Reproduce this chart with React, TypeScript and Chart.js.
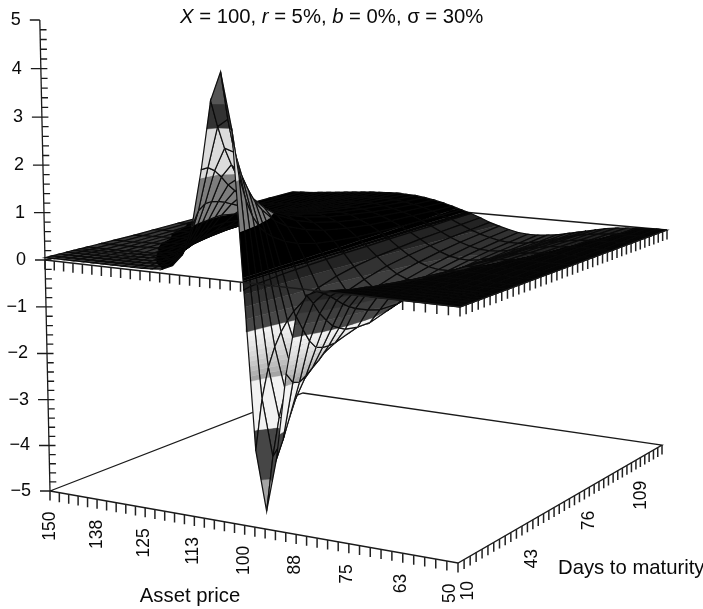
import { useEffect, useRef } from "react";
import { Chart, registerables } from "chart.js";
Chart.register(...registerables);

const prices = [150,147.5,145,142.5,140,137.5,135,132.5,130,127.5,125,122.5,120,117.5,115,112.5,110,107.5,105,102.5,100,97.5,95,92.5,90,87.5,85,82.5,80,77.5,75,72.5,70,67.5,65,62.5,60,57.5,55,52.5,50];
const dayTicks = [10,13,16,19,22,25,28,31,34,37,40,43,46,49,52,55,58,61,64,67,70,73,76,79,82,85,88,91,94,97,100,103,106,109,112,115,118,121,124,127,130];
const zTicks = [5,4,3,2,1,0,-1,-2,-3,-4,-5];
const priceLabels = [[150,"150"],[137.5,"138"],[125,"125"],[112.5,"113"],[100,"100"],[87.5,"88"],[75,"75"],[62.5,"63"],[50,"50"]] as [number,string][];
const dayLabels = [[10,"10"],[43,"43"],[76,"76"],[109,"109"]] as [number,string][];

const rowDays = [10,13,16,19,22,25,28,34,40,49,58,70,82,94,106,118,130];
const z10 = [.05,.05,.05,.05,.05,.05,.05,.05,.05,.05,.05,.06,.08,.17,.41,1.01,2.18,3.57,4.15,3.05,-.16,-3.41,-4.63,-3.52,-1.75,-.56,-.12,-.02,0,0,0,0,0,0,0,0,0,0,0,0,0];
const z13 = [.05,.05,.05,.05,.05,.05,.05,.05,.05,.05,.06,.08,.14,.31,.65,1.3,2.19,3.03,3.19,2.09,-.13,-2.4,-3.56,-3.18,-1.97,-.87,-.32,-.1,-.02,0,0,0,0,0,0,0,0,0,0,0,0];
const z16 = [.05,.05,.05,.05,.05,.05,.05,.05,.05,.06,.08,.12,.23,.45,.83,1.41,2.1,2.57,2.5,1.56,-.12,-1.8,-2.81,-2.78,-2.02,-1.15,-.57,-.2,-.05,-.02,0,0,0,0,0,0,0,0,0,0,0];
const z19 = [.05,.05,.05,.05,.05,.05,.05,.05,.06,.07,.1,.17,.32,.57,.95,1.42,1.94,2.21,2,1.19,-.11,-1.43,-2.31,-2.43,-1.94,-1.33,-.75,-.32,-.11,-.04,-.01,0,0,0,0,0,0,0,0,0,0];
const z22 = [.05,.05,.05,.05,.05,.05,.05,.06,.07,.09,.14,.23,.39,.65,.99,1.39,1.75,1.9,1.67,.95,-.1,-1.17,-1.93,-2.15,-1.83,-1.38,-.91,-.44,-.18,-.06,-.02,-.01,0,0,0,0,0,0,0,0,0];
const z25 = [.05,.05,.05,.05,.05,.05,.06,.07,.08,.11,.18,.28,.46,.71,1.01,1.34,1.6,1.65,1.4,.79,-.09,-.98,-1.65,-1.89,-1.72,-1.39,-1,-.54,-.25,-.1,-.03,-.01,0,0,0,0,0,0,0,0,0];
const z28 = [.05,.05,.05,.05,.05,.06,.06,.07,.1,.14,.22,.34,.51,.74,1.02,1.27,1.46,1.45,1.21,.67,-.08,-.83,-1.42,-1.68,-1.6,-1.38,-1.07,-.62,-.31,-.13,-.05,-.02,-.01,0,0,0,0,0,0,0,0];
const z34 = [.05,.05,.05,.05,.06,.07,.08,.1,.14,.19,.28,.41,.58,.77,.97,1.14,1.2,1.16,.91,.5,-.07,-.64,-1.11,-1.38,-1.38,-1.29,-1.12,-.74,-.42,-.21,-.09,-.03,-.01,0,0,0,0,0,0,0,0];
const z40 = [.05,.05,.05,.06,.07,.08,.1,.13,.18,.24,.33,.46,.6,.75,.89,1,1.03,.94,.72,.38,-.06,-.51,-.9,-1.14,-1.2,-1.2,-1.12,-.82,-.52,-.3,-.14,-.06,-.02,-.01,0,0,0,0,0,0,0];
const z49 = [.05,.06,.06,.07,.08,.1,.13,.17,.22,.3,.38,.48,.59,.7,.79,.84,.82,.72,.54,.27,-.05,-.39,-.69,-.9,-.99,-1.02,-1,-.83,-.6,-.38,-.21,-.1,-.03,-.01,0,0,0,0,0,0,0];
const z58 = [.06,.07,.07,.09,.1,.13,.16,.21,.26,.32,.4,.48,.57,.64,.69,.71,.67,.57,.42,.21,-.04,-.31,-.56,-.73,-.83,-.86,-.88,-.75,-.58,-.42,-.25,-.14,-.05,-.02,-.01,0,0,0,0,0,0];
const z70 = [.07,.08,.09,.11,.13,.16,.19,.23,.29,.34,.41,.46,.52,.56,.58,.58,.53,.44,.32,.15,-.04,-.24,-.43,-.58,-.67,-.7,-.67,-.59,-.48,-.35,-.24,-.15,-.09,-.04,-.02,-.01,0,0,0,0,0];
const z82 = [.08,.09,.11,.13,.15,.18,.21,.25,.3,.34,.39,.43,.47,.49,.5,.48,.44,.35,.25,.12,-.03,-.2,-.35,-.48,-.56,-.6,-.6,-.55,-.47,-.37,-.27,-.19,-.12,-.07,-.03,-.02,-.01,0,0,0,0];
const z94 = [.09,.11,.12,.14,.17,.19,.22,.26,.29,.33,.37,.4,.42,.43,.43,.41,.36,.29,.2,.09,-.03,-.16,-.29,-.4,-.48,-.52,-.53,-.5,-.45,-.37,-.29,-.21,-.14,-.09,-.05,-.03,-.01,0,0,0,0];
const z106 = [.11,.12,.14,.16,.18,.2,.23,.26,.29,.32,.35,.37,.38,.39,.38,.35,.3,.24,.17,.08,-.03,-.14,-.25,-.34,-.41,-.46,-.47,-.46,-.42,-.36,-.3,-.23,-.16,-.11,-.07,-.04,-.02,-.01,0,0,0];
const z118 = [.12,.13,.15,.17,.19,.21,.23,.26,.28,.31,.33,.34,.35,.35,.33,.3,.26,.21,.14,.06,-.02,-.12,-.22,-.3,-.36,-.41,-.43,-.43,-.4,-.36,-.3,-.24,-.18,-.12,-.08,-.05,-.03,-.01,-.01,0,0];
const z130 = [.13,.14,.15,.17,.19,.21,.23,.25,.27,.29,.3,.31,.32,.31,.3,.27,.23,.18,.12,.05,-.02,-.1,-.19,-.26,-.32,-.37,-.39,-.39,-.37,-.34,-.29,-.24,-.19,-.14,-.09,-.06,-.04,-.02,-.01,0,0];
const surface = [z10,z13,z16,z19,z22,z25,z28,z34,z40,z49,z58,z70,z82,z94,z106,z118,z130];

const bandEdges = [-9,-4,-3,-2,-1.9,-1.8,-1.7,-1.6,-1.5,-1.4,-1.3,-1.2,-1.1,-1,-.75,-.5,-.25,-.02,.02,.08,1,2,3,3.5,9];
const bandGreys = [165,70,242,165,178,190,200,209,217,224,231,236,241,72,62,50,35,5,55,0,125,220,50,85];

type Pt = [number, number];
type V = { u: number; v: number; z: number };

const homography = (q: Pt[]) => {
  const [p0, p1, p2, p3] = q;
  const dx1 = p1[0]-p2[0], dx2 = p3[0]-p2[0], sx = p0[0]-p1[0]+p2[0]-p3[0];
  const dy1 = p1[1]-p2[1], dy2 = p3[1]-p2[1], sy = p0[1]-p1[1]+p2[1]-p3[1];
  const den = dx1*dy2-dx2*dy1;
  const g = (sx*dy2-dx2*sy)/den, h = (dx1*sy-sx*dy1)/den;
  const a = p1[0]-p0[0]+g*p1[0], b = p3[0]-p0[0]+h*p3[0];
  const d = p1[1]-p0[1]+g*p1[1], e = p3[1]-p0[1]+h*p3[1];
  return (u: number, v: number): Pt => {
    const w = g*u+h*v+1;
    return [(a*u+b*v+p0[0])/w, (d*u+e*v+p0[1])/w];
  };
};
const planeTop = homography([[45,260],[460,307],[667,230],[293,197]]);
const planeFloor = homography([[50,491],[458,563],[662,445],[303,393]]);
const project = (u: number, v: number, z: number) => {
  const a = planeTop(u,v), b = planeFloor(u,v);
  const t = -(z + 0.0039*z*(z+5))/5;
  return { x: a[0]+(b[0]-a[0])*t, y: a[1]+(b[1]-a[1])*t };
};
const projectSurface = (u: number, v: number, z: number) => {
  const p = project(u,v,z);
  return { x: p.x + 4*u*(1-u)*(1-v)*(3.2+0.3*z), y: p.y };
};
const uOf = (p: number) => (150-p)/100;
const vOf = (d: number) => (d-10)/120;
const gap = { x: NaN, y: NaN };

const clip = (poly: V[], lim: number, keepAbove: boolean) => {
  const out: V[] = [];
  const inside = (a: V) => keepAbove ? a.z >= lim : a.z <= lim;
  poly.forEach((a, i) => {
    const b = poly[(i+1)%poly.length];
    if (inside(a)) out.push(a);
    if (inside(a) !== inside(b)) {
      const t = (lim-a.z)/(b.z-a.z);
      out.push({ u: a.u+(b.u-a.u)*t, v: a.v+(b.v-a.v)*t, z: lim });
    }
  });
  return out;
};

const lineSet = (data: any[], color: string, width: number) => ({
  data, borderColor: color, borderWidth: width, fill: false, pointRadius: 0, tension: 0, spanGaps: false,
});
const polySet = (data: any[], grey: number) => {
  const c = `rgb(${grey},${grey},${grey})`;
  return { data, borderColor: c, borderWidth: 0.4, backgroundColor: c, fill: "shape", pointRadius: 0, tension: 0 };
};

const buildDatasets = () => {
  const out: any[] = [];
  const axisColor = "#1a1a1a";
  const edge = (pts: number[][], z: number) => pts.map(([u,v]) => project(u,v,z));
  out.push(lineSet(edge([[0,0],[1,0],[1,1],[0,1],[0,0]], -5), axisColor, 1.3));
  out.push(lineSet(edge([[1,1],[0,1],[0,0]], 0), axisColor, 1.3));
  const ticks: any[] = [];
  const addTick = (u: number, v: number, z: number) => {
    const p = project(u,v,z);
    ticks.push(p, { x: p.x, y: p.y+9.5 }, gap);
  };
  for (const z of [-5, 0]) {
    prices.forEach(p => addTick(uOf(p), 0, z));
    dayTicks.forEach(d => addTick(1, vOf(d), z));
  }
  out.push(lineSet(ticks, "#222", 1.5));
  const zAxis = edge([[0,0]], 5).concat(edge([[0,0]], -5));
  out.push(lineSet(zAxis, axisColor, 1.3));
  const zt: any[] = [];
  for (let i = 0; i <= 50; i++) {
    const z = 5 - i*0.2;
    const p = project(0,0,z);
    const major = i%5 === 0;
    const end = i === 0 || i === 50;
    zt.push({ x: p.x-(major?10:0), y: p.y }, { x: p.x+(end?0:6.5), y: p.y }, gap);
  }
  out.push(lineSet(zt, axisColor, 1.3));

  for (let r = surface.length-2; r >= 0; r--) {
    for (let c = 0; c < prices.length-1; c++) {
      const v0 = vOf(rowDays[r]), v1 = vOf(rowDays[r+1]);
      const u0 = uOf(prices[c]), u1 = uOf(prices[c+1]);
      const quad: V[] = [
        { u: u0, v: v1, z: surface[r+1][c] },
        { u: u1, v: v1, z: surface[r+1][c+1] },
        { u: u1, v: v0, z: surface[r][c+1] },
        { u: u0, v: v0, z: surface[r][c] },
      ];
      for (let b = 0; b < bandGreys.length; b++) {
        const part = clip(clip(quad, bandEdges[b], true), bandEdges[b+1], false);
        if (part.length < 3) continue;
        const pts = part.map(a => projectSurface(a.u,a.v,a.z));
        pts.push(pts[0]);
        const wingBand = bandEdges[b] === .02;
        out.push(polySet(pts, wingBand && prices[c] < 120 ? 0 : bandGreys[b]));
      }
      const outline = quad.map(a => projectSurface(a.u,a.v,a.z));
      outline.push(outline[0]);
      out.push(lineSet(outline, "rgba(8,8,8,0.95)", 1.2));
    }
  }
  out.push(lineSet(edge([[0,0],[1,0],[1,1]], 0), axisColor, 1.3));
  return out.reverse();
};

const font = (size: number, italic = false) => `${italic ? "italic " : ""}${size}px "Liberation Sans", Arial, sans-serif`;

const textPlugin = {
  id: "surfaceText",
  afterDraw(chart: any) {
    const ctx = chart.ctx;
    const sx = chart.scales.x, sy = chart.scales.y;
    ctx.save();
    ctx.fillStyle = "#0a0a0a";
    const runs: [string, boolean][] = [["X",true],[" = 100, ",false],["r",true],[" = 5%, ",false],["b",true],[" = 0%, ",false],["σ",false],[" = 30%",false]];
    let tx = sx.getPixelForValue(180);
    ctx.textBaseline = "middle";
    ctx.textAlign = "left";
    for (const [t, it] of runs) {
      ctx.font = font(20.3, it);
      ctx.fillText(t, tx, sy.getPixelForValue(17));
      tx += ctx.measureText(t).width;
    }
    ctx.font = font(18);
    ctx.textAlign = "right";
    zTicks.forEach(z => {
      const p = project(0,0,z);
      ctx.fillText(z < 0 ? "\u2212"+(-z) : String(z), sx.getPixelForValue(p.x-19), sy.getPixelForValue(p.y));
    });
    const rot = (label: string, x: number, y: number) => {
      ctx.save();
      ctx.translate(sx.getPixelForValue(x), sy.getPixelForValue(y));
      ctx.rotate(-Math.PI/2);
      ctx.textAlign = "right";
      ctx.font = font(17.5);
      ctx.fillText(label, 0, 0);
      ctx.restore();
    };
    priceLabels.forEach(([p, l]) => {
      const u = uOf(p), a = project(u,0,-5);
      rot(l, a.x-2*u-(p === 50 ? 6 : 0), a.y+20.5);
    });
    dayLabels.forEach(([d, l]) => {
      const a = project(1,vOf(d),-5);
      rot(l, a.x+10, a.y+(d === 43 ? 23 : 18));
    });
    ctx.font = font(20.3);
    ctx.textAlign = "center";
    ctx.fillText("Asset price", sx.getPixelForValue(190), sy.getPixelForValue(596));
    ctx.textAlign = "left";
    ctx.fillText("Days to maturity", sx.getPixelForValue(558), sy.getPixelForValue(568));
    ctx.restore();
  },
};

export default function App() {
  const ref = useRef<HTMLCanvasElement>(null);
  useEffect(() => {
    const chart = new Chart(ref.current!, {
      type: "line",
      data: { datasets: buildDatasets() },
      options: {
        animation: false,
        responsive: false,
        events: [],
        layout: { padding: 0 },
        plugins: { legend: { display: false }, tooltip: { enabled: false }, title: { display: false } },
        scales: {
          x: { type: "linear", min: 0, max: 703, display: false },
          y: { type: "linear", min: 0, max: 609, reverse: true, display: false },
        },
      },
      plugins: [textPlugin],
    } as any);
    return () => chart.destroy();
  }, []);
  return (
    <div style={{ position: "fixed", left: 0, top: 0, width: 703, height: 609, background: "#fff" }}>
      <canvas ref={ref} width={703} height={609} style={{ display: "block" }} />
    </div>
  );
}
